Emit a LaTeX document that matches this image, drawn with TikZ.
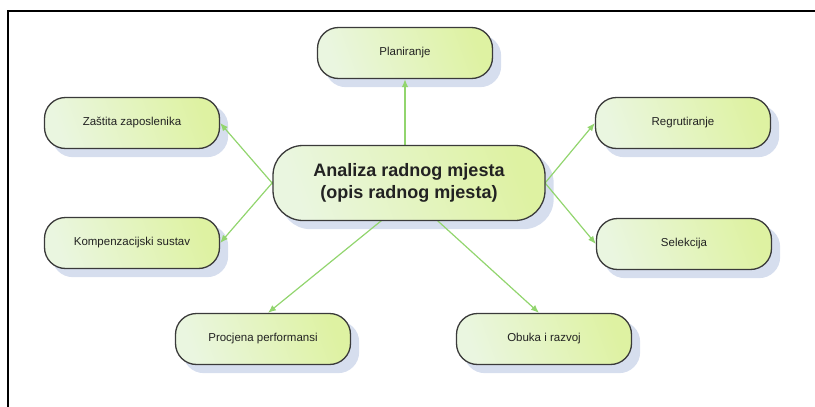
\documentclass[tikz,border=0pt]{standalone}
\usepackage{fontspec}
\setmainfont{Liberation Sans}
\usetikzlibrary{arrows.meta,calc}
\pgfdeclarelayer{bg}
\pgfdeclarelayer{mid}
\pgfsetlayers{bg,mid,main}
\definecolor{shadowc}{HTML}{D6DEEE}
\definecolor{linkc}{HTML}{92D56E}
\definecolor{borderc}{HTML}{3A3A3A}
\definecolor{fillL}{HTML}{EAF6E0}
\definecolor{fillR}{HTML}{DEF2A2}
\definecolor{textc}{HTML}{222222}
\tikzset{
  box/.style={draw=borderc, line width=1.3pt, rounded corners=21pt,
    left color=fillL, right color=fillR, shading angle=110,
    minimum width=175pt, minimum height=51pt, inner sep=0pt,
    font=\fontsize{11.5}{13}\selectfont, text=textc},
  bigbox/.style={box, rounded corners=30pt, minimum width=272pt, minimum height=75pt,
    align=center, font=\fontsize{18}{22}\selectfont\bfseries},
  link/.style={draw=linkc, line width=1.2pt, -{Latex[length=8pt,width=6.5pt]}},
}
\begin{document}
\begin{tikzpicture}[x=1pt,y=-1pt]
\useasboundingbox (0,0) rectangle (815,407);
\draw[line width=1.6pt] (8,407) -- (8,11) -- (815,11);

\node[bigbox] (c) at (409,183) {Analiza radnog mjesta\\(opis radnog mjesta)};
\node[box] (p) at (405,53) {Planiranje};
\node[box] (z) at (132,123) {Zaštita zaposlenika};
\node[box] (r) at (683,123) {Regrutiranje};
\node[box] (k) at (132,243) {Kompenzacijski sustav};
\node[box] (s) at (684,244) {Selekcija};
\node[box] (pr) at (263,339) {Procjena performansi};
\node[box] (o) at (544,339) {Obuka i razvoj};

\begin{pgfonlayer}{bg}
  \foreach \n in {p,z,r,k,s,pr,o}{
    \fill[shadowc, rounded corners=21pt] ($(\n.north west)+(8,8)$) rectangle ($(\n.south east)+(8,8)$);
  }
  \fill[shadowc, rounded corners=30pt] ($(c.north west)+(8,8)$) rectangle ($(c.south east)+(8,8)$);
\end{pgfonlayer}

\coordinate (az) at (292,206);
\coordinate (ak) at (292,160);
\coordinate (ar) at (526,206);
\coordinate (as) at (526,160);
\coordinate (apr) at (392,212);
\coordinate (ao) at (428,212);
\begin{pgfonlayer}{mid}
  \draw[link] (c.north -| p.south) -- (p.south);
  \draw[link] (az) -- (z.east);
  \draw[link] (ak) -- (k.east);
  \draw[link] (ar) -- (r.west);
  \draw[link] (as) -- (s.west);
  \draw[link] (apr) -- ($(pr.north)+(5,0)$);
  \draw[link] (ao) -- ($(o.north)+(-5,0)$);
\end{pgfonlayer}
\end{tikzpicture}
\end{document}
